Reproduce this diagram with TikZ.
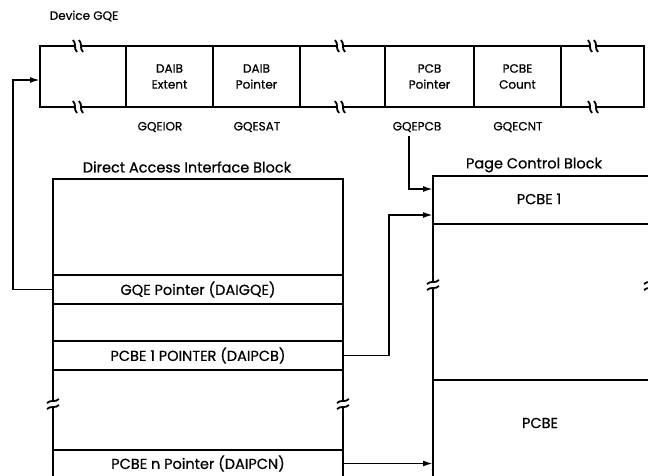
\documentclass[tikz,border=0pt]{standalone}
\usepackage{fontspec}
\setmainfont{Poppins}[FakeBold=0.6]
\usetikzlibrary{arrows.meta,positioning}

\tikzset{
  hgap/.pic={
    \fill[white] (-3,-2.5) rectangle (3,2.5);
    \draw (-5,-6) .. controls (-1,-2) and (-5,2) .. (-1,6);
    \draw (1,-6) .. controls (5,-2) and (1,2) .. (5,6);
  }
}

\begin{document}
\begin{tikzpicture}[x=1pt,y=-1pt,line width=1.8pt,
    font=\fontsize{12}{16}\selectfont,
    big/.style={font=\fontsize{14.5}{17}\selectfont},
    cell/.style={draw,minimum width=#1,minimum height=61,align=center,inner sep=0pt,outer sep=0pt},
    rowbox/.style={draw,big,minimum width=290,minimum height=#1,inner sep=0pt,outer sep=0pt},
    pcbrow/.style={draw,minimum width=217,minimum height=#1,inner sep=0pt,outer sep=0pt},
    ptr/.style={-{Latex[length=10pt,width=6pt]}}]
  \clip (0,0) rectangle (648,475);

  % Device GQE
  \node (gqetitle) at (84,16) {Device GQE};
  \node[cell=87] (daibext) at (169.5,76.5) {DAIB\\Extent};
  \node[cell=87] (daibptr) at (256.5,76.5) {DAIB\\Pointer};
  \node[cell=89] (pcbptr) at (429.5,76.5) {PCB\\Pointer};
  \node[cell=87] (pcbecnt) at (517.5,76.5) {PCBE\\Count};
  \draw (daibext.north west) -| (40,107) -- (daibext.south west);
  \draw (daibptr.north east) -- (pcbptr.north west);
  \draw (daibptr.south east) -- (pcbptr.south west);
  \draw (pcbecnt.north east) -| (644,107) -- (pcbecnt.south east);
  \foreach \x in {78,340,593} {
    \pic at (\x,46) {hgap};
    \pic at (\x,107) {hgap};
  }
  \coordinate (gqein) at (40,80);

  \node (gqeior) at (160,127) {GQEIOR};
  \node (gqesat) at (257,127) {GQESAT};
  \node (gqepcb) at (417,127) {GQEPCB};
  \node (gqecnt) at (518,127) {GQECNT};

  % Direct Access Interface Block
  \node[big] (daibtitle) at (187,167) {Direct Access Interface Block};
  \node[rowbox=96] (daibtop) at (198,227) {};
  \node[rowbox=29] (gqeptr) at (198,289.5) {GQE Pointer (DAIGQE)};
  \node[rowbox=37] (daibfill) at (198,322.5) {};
  \node[rowbox=29] (pcb1ptr) at (198,355.5) {PCBE 1 POINTER (DAIPCB)};
  \node[rowbox=80] (daibgap) at (198,410) {};
  \node[rowbox=27] (pcbnptr) at (198,463.5) {PCBE n Pointer (DAIPCN)};
  \pic[rotate=90] at (53,404) {hgap};
  \pic[rotate=90] at (343,404) {hgap};

  % Page Control Block
  \node[big] (pcbtitle) at (534,165) {Page Control Block};
  \node[pcbrow=48] (pcbe1) at (541.5,200) {};
  \node[pcbrow=156] (pcbmid) at (541.5,302) {};
  \node[pcbrow=100] (pcbe) at (541.5,430) {};
  \node[big] (pcbe1txt) at (539,199) {PCBE 1};
  \node[big] (pcbetxt) at (540,423) {PCBE};
  \pic[rotate=90] at (433,285) {hgap};
  \pic[rotate=90] at (650,285) {hgap};

  % pointers
  \draw[ptr] (gqeptr.west) -- ++(-40,0) |- (gqein);
  \draw[ptr] ([xshift=-8pt]gqepcb.south) |- ([yshift=11pt]pcbe1.west);
  \draw[ptr] (pcb1ptr.east) -- ++(46,0) |- ([yshift=-15pt]pcbe1.west);
  \draw[ptr] (pcbnptr.east) -- (pcbnptr.east -| pcbe.west);
\end{tikzpicture}
\end{document}
